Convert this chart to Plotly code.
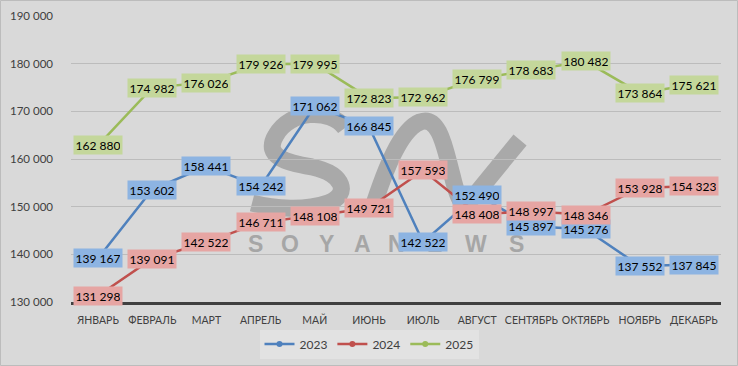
import plotly.graph_objects as go

months = ["ЯНВАРЬ", "ФЕВРАЛЬ", "МАРТ", "АПРЕЛЬ", "МАЙ", "ИЮНЬ", "ИЮЛЬ",
          "АВГУСТ", "СЕНТЯБРЬ", "ОКТЯБРЬ", "НОЯБРЬ", "ДЕКАБРЬ"]
y2023 = [139167, 153602, 158441, 154242, 171062, 166845, 142522, 152490, 145897, 145276, 137552, 137845]
y2024 = [131298, 139091, 142522, 146711, 148108, 149721, 157593, 148408, 148997, 148346, 153928, 154323]
y2025 = [162880, 174982, 176026, 179926, 179995, 172823, 172962, 176799, 178683, 180482, 173864, 175621]
series_names = ["2023", "2024", "2025"]

W, H = 738, 366
ML, MR, MT, MB = 71, 17, 16, 64
PW, PH = W - ML - MR, H - MT - MB
FONT = "Lato, 'Liberation Sans', Arial, sans-serif"

line_colors = ["#4f81bd", "#c0504d", "#9bbb59"]
label_colors = ["#8db4e2", "#e6a5a3", "#c4d79b"]
all_series = [y2023, y2024, y2025]


def px2paper(x, y):
    return (x - ML) / PW, (MT + PH - y) / PH


fig = go.Figure()

for name, ys, lc in zip(series_names, all_series, line_colors):
    fig.add_trace(go.Scatter(
        x=months, y=ys, mode="lines+markers", name=name, showlegend=False,
        line=dict(color=lc, width=2.5),
        marker=dict(color=lc, size=17, symbol="circle"),
        hoverinfo="x+y",
    ))
# legend entries with small markers
for name, lc in zip(series_names, line_colors):
    fig.add_trace(go.Scatter(
        x=[None], y=[None], mode="lines+markers", name=name,
        line=dict(color=lc, width=2.5), marker=dict(color=lc, size=6),
    ))

annotations = []
# watermark letters
wm_letters = ["S", "O", "Y", "A", "N", "E", "W", "S"]
wm_x = [255, 290, 326, 362, 397, 434, 476, 516]
for ch, xp in zip(wm_letters, wm_x):
    px_, py_ = px2paper(xp, 244)
    annotations.append(dict(
        x=px_, y=py_, xref="paper", yref="paper", text=f"<b>{ch}</b>", showarrow=False,
        font=dict(family="'Liberation Sans', Arial, sans-serif", size=23, color="#a6a6a6"),
        xanchor="center", yanchor="middle",
    ))
# data labels
for ys, bc in zip(all_series, label_colors):
    for m, v in zip(months, ys):
        annotations.append(dict(
            x=m, y=v, xref="x", yref="y", text=f"{v:,}".replace(",", " "),
            showarrow=False, bgcolor=bc, font=dict(family=FONT, size=12, color="#000000"),
            width=44, height=14, borderpad=2, xanchor="center", yanchor="middle",
        ))


def path_from(points_cmds):
    out = []
    for cmd, pts in points_cmds:
        coords = []
        for (x, y) in pts:
            a, b = px2paper(x, y)
            coords.append(f"{a:.4f},{b:.4f}")
        out.append(cmd + " " + " ".join(coords))
    return " ".join(out)


s_path = path_from([
    ("M", [(345, 128)]),
    ("C", [(330, 108), (290, 110), (276, 135)]),
    ("C", [(262, 158), (290, 163), (312, 167)]),
    ("C", [(345, 174), (350, 195), (328, 203)]),
    ("C", [(305, 211), (275, 209), (252, 203)]),
])
n_path = path_from([
    ("M", [(372, 210)]),
    ("C", [(385, 170), (400, 130), (420, 122)]),
    ("C", [(440, 115), (445, 150), (452, 175)]),
    ("C", [(458, 200), (462, 212), (475, 195)]),
    ("L", [(520, 140)]),
])

bx0, by1 = px2paper(0.5, 0.5)
bx1, by0 = px2paper(W - 0.5, H - 0.5)
shapes = [
    dict(type="path", path=s_path, xref="paper", yref="paper", layer="below",
         line=dict(color="#a9a9a9", width=17)),
    dict(type="path", path=n_path, xref="paper", yref="paper", layer="below",
         line=dict(color="#a9a9a9", width=17)),
    dict(type="rect", xref="paper", yref="paper", x0=bx0, x1=bx1, y0=by0, y1=by1,
         line=dict(color="#bcbcbc", width=1), layer="above"),
]

lx, ly = px2paper(369, 344)
fig.update_layout(
    width=W, height=H, autosize=False,
    margin=dict(l=ML, r=MR, t=MT, b=MB, pad=0, autoexpand=False),
    paper_bgcolor="#d9d9d9", plot_bgcolor="#d9d9d9",
    separators=". ",
    font=dict(family=FONT, size=11, color="#404040"),
    showlegend=True,
    legend=dict(orientation="h", x=lx, y=ly, xanchor="center", yanchor="middle",
                bgcolor="#e2e2e2", font=dict(size=12, color="#404040"),
                itemwidth=30, tracegroupgap=0),
    xaxis=dict(type="category", range=[-0.5, len(months) - 0.5], autorange=False,
               showgrid=False, showline=True, linecolor="#404040",
               linewidth=2.5, ticks="", tickangle=0, automargin=False,
               tickfont=dict(size=10.5, color="#404040"),
               ticklabelstandoff=7, fixedrange=True),
    yaxis=dict(range=[130000, 190000], autorange=False, dtick=10000, tick0=130000, showgrid=True,
               gridcolor="#bcbcbc", gridwidth=1, zeroline=False, showline=False,
               tickformat=",d", ticks="", ticklabelstandoff=17, automargin=False,
               tickfont=dict(size=11.5, color="#404040"), fixedrange=True),
    annotations=annotations,
    shapes=shapes,
)

fig.write_html(
    "out.html",
    config={"responsive": False, "displayModeBar": False},
    post_script="document.body.style.margin='0';document.body.style.padding='0';",
)
